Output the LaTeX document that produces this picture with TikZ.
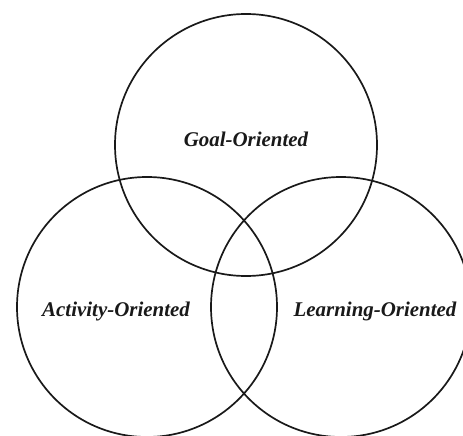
\documentclass[tikz,border=0pt]{standalone}
\usepackage{fontspec}
\setmainfont{Liberation Serif}
\usepackage{tikz}
\usetikzlibrary{positioning}

\tikzset{
  ring/.style={line width=1.7pt, black!90},
  label/.style={font=\fontsize{21}{25}\selectfont\bfseries\itshape, black!90, inner sep=0pt}
}

\begin{document}
\begin{tikzpicture}[x=1bp, y=-1bp]
    \useasboundingbox (0,0) rectangle (463,436);

    % the three overlapping circles
    \draw [ring] (246,145) circle [radius=131];
    \draw [ring] (147,307) circle [radius=130];
    \draw [ring] (341,307) circle [radius=130];

    % the labels for each circle
    \node [label] (goal)     at (246,139) {Goal-Oriented};
    \node [label] (activity) at (116,311) {Activity-Oriented};
    \node [label] (learning) at (375,311) {Learning-Oriented};

  \end{tikzpicture}
\end{document}
